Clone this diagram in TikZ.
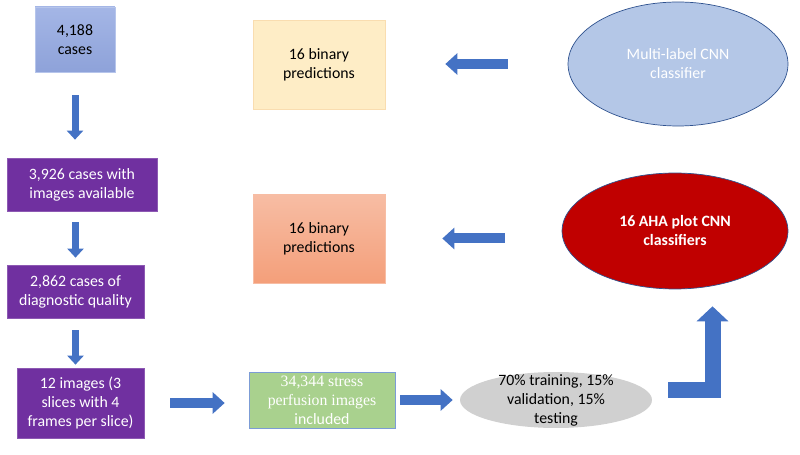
\documentclass[tikz,border=0pt]{standalone}
\usepackage{fontspec}
\setmainfont{Carlito}
\newfontfamily\carlito{Carlito}
\newfontfamily\serifpart{Liberation Serif}
\usetikzlibrary{arrows.meta,shapes.geometric}

\definecolor{arrowblue}{HTML}{4472C4}
\definecolor{casestop}{HTML}{A4B6E6}
\definecolor{casesbot}{HTML}{8EA2D9}
\definecolor{stepviolet}{HTML}{7030A0}
\definecolor{peach}{HTML}{FEEDC6}
\definecolor{peachline}{HTML}{F9DDB0}
\definecolor{salmontop}{HTML}{F7BDA4}
\definecolor{salmonbot}{HTML}{F49F7A}
\definecolor{perfgreen}{HTML}{A9D18E}
\definecolor{splitgray}{HTML}{D0D0D0}
\definecolor{multiblue}{HTML}{B4C7E7}
\definecolor{ahared}{HTML}{C00000}
\definecolor{rimblue}{HTML}{2F528F}

\tikzset{
  flowtext/.style={align=center, font=\carlito\fontsize{9}{10.8}\selectfont},
  flowbox/.style={rectangle, flowtext, inner sep=2pt},
  stepbox/.style={flowbox, fill=stepviolet, draw=stepviolet!80!white, text=white},
  downarrow/.style={draw=arrowblue, line width=0.14cm, -{Triangle[width=0.32cm,length=0.18cm]}},
  sidearrow/.style={draw=arrowblue, line width=0.2cm, -{Triangle[width=0.42cm,length=0.24cm]}},
  bigarrow/.style={draw=arrowblue, line width=0.32cm, -{Triangle[width=0.62cm,length=0.3cm]}}
}

\begin{document}
\begin{tikzpicture}[x=0.02cm,y=-0.02cm]
        \useasboundingbox (0,0) rectangle (800,455);
        \begin{scope}[every node/.style={flowbox}]
            \node (total) [top color=casestop, bottom color=casesbot, draw=casestop!80!white,
                minimum width=1.6cm, minimum height=1.3cm] at (75, 39.5) {4,188\\cases};
            \node (avail) [stepbox, minimum width=3cm, minimum height=1.06cm]
                at (82, 184.5) {3,926 cases with\\images available};
            \node (quality) [stepbox, minimum width=2.74cm, minimum height=1.06cm]
                at (75.5, 291.5) {2,862 cases of\\diagnostic quality};
            \node (frames) [stepbox, minimum width=2.54cm, minimum height=1.4cm]
                at (80.5, 403) {12 images (3\\slices with 4\\frames per slice)};
            \node (perf) [fill=perfgreen, draw=arrowblue!70!white, text=white,
                minimum width=2.92cm, minimum height=1.12cm]
                at (322, 400) {{\serifpart 34,344 stress}\\{\serifpart perfusion images}\\included};
            \node (split) [ellipse, fill=splitgray, minimum width=3.84cm, minimum height=1.12cm,
                label={[flowtext]center:70\% training, 15\%\\validation, 15\%\\testing}]
                at (556, 400) {};
            \node (aha) [ellipse, fill=ahared, draw=rimblue, text=white, font=\carlito\fontsize{9}{10.8}\selectfont\bfseries,
                minimum width=4.52cm, minimum height=2.32cm] at (675, 231) {16 AHA plot CNN\\classifiers};
            \node (multi) [ellipse, fill=multiblue, draw=rimblue, text=white,
                minimum width=4.4cm, minimum height=2.48cm] at (678, 64) {Multi-label CNN\\classifier};
            \node (pred1) [fill=peach, draw=peachline, minimum width=2.64cm, minimum height=1.78cm]
                at (319, 64.5) {16 binary\\predictions};
            \node (pred2) [top color=salmontop, bottom color=salmonbot, draw=salmontop,
                minimum width=2.64cm, minimum height=1.78cm] at (319, 238.5) {16 binary\\predictions};
        \end{scope}
        \begin{scope}
            \path (total.south) edge [downarrow, shorten <=0.46cm, shorten >=0.36cm] (total.south |- avail.north);
            \path (quality.north |- avail.south) edge [downarrow, shorten <=0.22cm, shorten >=0.14cm] (quality.north);
            \path (quality.south) edge [downarrow, shorten <=0.24cm, shorten >=0.06cm] (quality.south |- frames.north);
            \path (frames.east) edge [sidearrow, shorten <=0.52cm, shorten >=0.48cm] (frames.east -| perf.west);
            \path (perf) edge [sidearrow, shorten <=0.1cm, shorten >=0.14cm] (split);
            \path (multi.west) edge [sidearrow, shorten <=1.2cm, shorten >=1.2cm] (multi.west -| pred1.east);
            \path (pred2 -| aha.west) edge [sidearrow, shorten <=1.14cm, shorten >=1.14cm] (pred2.east);
            \draw [bigarrow, shorten <=0.32cm, shorten >=0.34cm] ([yshift=0.2cm]split.east) -| ([xshift=0.75cm]aha.south);
        \end{scope}
    \end{tikzpicture}
\end{document}
